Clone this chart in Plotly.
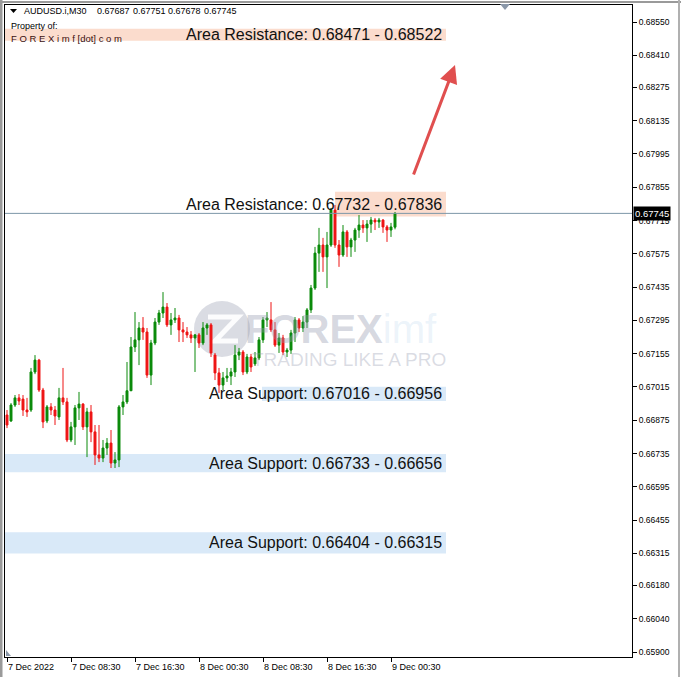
import plotly.graph_objects as go
import pandas as pd

# ---------------- data (AUDUSD M30) ----------------
start_time = "2022-12-07 00:30"
opens = [0.66897,0.66872,0.66939,0.66969,0.66964,0.66918,0.66918,0.67078,0.67128,0.67002,
         0.66872,0.66931,0.66918,0.66889,0.66969,0.66952,0.66792,0.66847,0.66927,0.66943,
         0.66847,0.66910,0.66826,0.66729,0.66716,0.66758,0.66779,0.66695,0.66708,0.66931,
         0.66952,0.66999,0.67183,0.67213,0.67263,0.67246,0.67065,0.67200,0.67288,0.67326,
         0.67351,0.67276,0.67297,0.67305,0.67255,0.67246,0.67234,0.67221,0.67234,0.67200,
         0.67263,0.67276,0.67149,0.67074,0.67023,0.67053,0.67061,0.67078,0.67149,0.67162,
         0.67078,0.67141,0.67112,0.67137,0.67213,0.67297,0.67297,0.67255,0.67191,0.67221,
         0.67162,0.67170,0.67242,0.67297,0.67263,0.67288,0.67339,0.67431,0.67578,0.67612,
         0.67562,0.67612,0.67759,0.67612,0.67570,0.67667,0.67604,0.67633,0.67675,0.67696,
         0.67684,0.67700,0.67717,0.67709,0.67717,0.67688,0.67675,0.67687]
highs = [0.66918,0.66947,0.66981,0.66985,0.66981,0.66969,0.67095,0.67149,0.67133,0.67011,
         0.66939,0.66947,0.66935,0.67011,0.67095,0.66969,0.66868,0.66939,0.66994,0.66947,
         0.66927,0.66939,0.66855,0.66855,0.66792,0.66800,0.66834,0.66741,0.66939,0.66981,
         0.67120,0.67225,0.67330,0.67288,0.67309,0.67263,0.67213,0.67305,0.67339,0.67414,
         0.67368,0.67326,0.67347,0.67318,0.67288,0.67267,0.67250,0.67238,0.67242,0.67288,
         0.67284,0.67284,0.67158,0.67095,0.67078,0.67095,0.67095,0.67191,0.67179,0.67170,
         0.67154,0.67154,0.67162,0.67225,0.67309,0.67330,0.67372,0.67288,0.67242,0.67234,
         0.67179,0.67255,0.67309,0.67305,0.67313,0.67347,0.67444,0.67604,0.67684,0.67642,
         0.67667,0.67768,0.67780,0.67633,0.67696,0.67675,0.67642,0.67684,0.67738,0.67717,
         0.67717,0.67730,0.67726,0.67726,0.67721,0.67696,0.67705,0.67751]
lows = [0.66842,0.66868,0.66931,0.66939,0.66893,0.66889,0.66910,0.67069,0.66994,0.66842,
        0.66863,0.66897,0.66855,0.66876,0.66939,0.66783,0.66783,0.66771,0.66876,0.66834,
        0.66720,0.66783,0.66687,0.66699,0.66699,0.66729,0.66674,0.66674,0.66678,0.66897,
        0.66943,0.67086,0.67162,0.67107,0.67213,0.67053,0.67023,0.67191,0.67276,0.67305,
        0.67267,0.67234,0.67284,0.67204,0.67204,0.67221,0.67200,0.67078,0.67179,0.67191,
        0.67234,0.67141,0.67044,0.66990,0.67002,0.67036,0.67023,0.67057,0.67128,0.67065,
        0.67069,0.67078,0.67103,0.67128,0.67200,0.67267,0.67246,0.67183,0.67158,0.67149,
        0.67141,0.67154,0.67204,0.67246,0.67246,0.67263,0.67326,0.67423,0.67499,0.67499,
        0.67431,0.67604,0.67600,0.67520,0.67562,0.67562,0.67562,0.67583,0.67642,0.67663,
        0.67625,0.67663,0.67675,0.67684,0.67663,0.67625,0.67646,0.67678]
closes = [0.66855,0.66939,0.66969,0.66956,0.66918,0.66910,0.67078,0.67128,0.67002,0.66868,
          0.66931,0.66918,0.66893,0.66969,0.66952,0.66792,0.66847,0.66927,0.66943,0.66847,
          0.66910,0.66826,0.66729,0.66716,0.66758,0.66779,0.66695,0.66708,0.66931,0.66952,
          0.66999,0.67183,0.67213,0.67263,0.67246,0.67065,0.67200,0.67288,0.67326,0.67351,
          0.67276,0.67297,0.67305,0.67255,0.67246,0.67234,0.67221,0.67234,0.67200,0.67263,
          0.67276,0.67158,0.67074,0.67023,0.67053,0.67061,0.67078,0.67149,0.67162,0.67078,
          0.67141,0.67099,0.67137,0.67213,0.67297,0.67305,0.67255,0.67191,0.67221,0.67162,
          0.67170,0.67242,0.67297,0.67263,0.67288,0.67339,0.67431,0.67578,0.67612,0.67562,
          0.67612,0.67759,0.67612,0.67570,0.67667,0.67604,0.67633,0.67675,0.67696,0.67684,
          0.67700,0.67717,0.67709,0.67717,0.67688,0.67675,0.67688,0.67745]

times = pd.date_range(start_time, periods=len(opens), freq="30min")
cats = [t.strftime("%Y-%m-%d %H:%M") for t in times]

x_tick_labels = ["7 Dec 2022", "7 Dec 08:30", "7 Dec 16:30", "8 Dec 00:30",
                 "8 Dec 08:30", "8 Dec 16:30", "9 Dec 00:30"]
x_tick_times = ["2022-12-07 00:30", "2022-12-07 08:30", "2022-12-07 16:30",
                "2022-12-08 00:30", "2022-12-08 08:30", "2022-12-08 16:30",
                "2022-12-09 00:30"]
y_tick_vals = [0.68550, 0.68410, 0.68275, 0.68135, 0.67995, 0.67855, 0.67715, 0.67575,
               0.67435, 0.67295, 0.67155, 0.67015, 0.66875, 0.66735, 0.66595, 0.66455,
               0.66315, 0.66180, 0.66040, 0.65900]

symbol_label = "AUDUSD.i,M30"
last_ohlc = [0.67687, 0.67751, 0.67678, 0.67745]

resistance_zones = [(0.68471, 0.68522), (0.67732, 0.67836)]
support_zones = [(0.67016, 0.66956), (0.66733, 0.66656), (0.66404, 0.66315)]
current_price = 0.67745

# ---------------- layout geometry helpers (pixels -> paper) ----------------
W, H = 681, 677
L, R, T, B = 5, 632, 5, 657
def px(xp):
    return (xp - L) / (R - L)
def py(yp):
    return (B - yp) / (B - T)

FONT = "Liberation Sans"
GREEN = "#0a8a0a"
RED = "#ee1515"

fig = go.Figure()
fig.add_trace(go.Candlestick(
    x=cats, open=opens, high=highs, low=lows, close=closes,
    increasing=dict(line=dict(color=GREEN, width=1), fillcolor=GREEN),
    decreasing=dict(line=dict(color=RED, width=1), fillcolor=RED),
    whiskerwidth=0, showlegend=False, hoverinfo="skip"))

shapes = []
annotations = []

# zones
res_left = [0, px(335)]
for (lo, hi), x0 in zip(resistance_zones, res_left):
    shapes.append(dict(type="rect", xref="paper", yref="y", x0=x0, x1=px(446),
                       y0=lo, y1=hi, fillcolor="#fbdccd", line=dict(width=0), layer="below"))
sup_left = [px(262), 0, 0]
for (hi, lo), x0 in zip(support_zones, sup_left):
    shapes.append(dict(type="rect", xref="paper", yref="y", x0=x0, x1=px(446),
                       y0=lo, y1=hi, fillcolor="#d9e9f8", line=dict(width=0), layer="below"))

for lo, hi in resistance_zones:
    annotations.append(dict(xref="paper", yref="y", x=px(444), y=(lo + hi) / 2,
                            text=f"Area Resistance: {lo:.5f} - {hi:.5f}", showarrow=False,
                            xanchor="right", yanchor="middle",
                            font=dict(family=FONT, size=16, color="#111")))
for hi, lo in support_zones:
    annotations.append(dict(xref="paper", yref="y", x=px(444), y=(lo + hi) / 2,
                            text=f"Area Support: {hi:.5f} - {lo:.5f}", showarrow=False,
                            xanchor="right", yanchor="middle",
                            font=dict(family=FONT, size=16, color="#111")))

# watermark
shapes.append(dict(type="circle", xref="paper", yref="paper",
                   x0=px(194), x1=px(250), y0=py(357), y1=py(301),
                   fillcolor="rgba(150,155,175,0.35)", line=dict(width=0), layer="below"))
shapes.append(dict(type="path", xref="paper", yref="paper",
                   path=f"M {px(208)},{py(317)} L {px(238)},{py(317)} L {px(215)},{py(341)} L {px(238)},{py(341)}",
                   line=dict(color="rgba(255,255,255,0.9)", width=5), layer="below"))
annotations.append(dict(xref="paper", yref="paper", x=px(243), y=py(329),
                        text="<b>FOREX</b><span style='color:rgba(140,185,225,0.45)'>imf</span>",
                        showarrow=False, xanchor="left", yanchor="middle",
                        font=dict(family=FONT, size=40, color="rgba(150,155,175,0.40)")))
annotations.append(dict(xref="paper", yref="paper", x=px(250), y=py(359),
                        text="TRADING LIKE A PRO", showarrow=False, xanchor="left", yanchor="middle",
                        font=dict(family=FONT, size=19, color="rgba(150,155,175,0.35)")))

# current price line and label
shapes.append(dict(type="line", xref="paper", yref="y", x0=0, x1=1,
                   y0=current_price, y1=current_price, line=dict(color="#7d97a8", width=1)))
annotations.append(dict(xref="paper", yref="y", x=1, y=current_price, xshift=1,
                        text=f"{current_price:.5f}", showarrow=False, xanchor="left", yanchor="middle",
                        bgcolor="#000", borderpad=1,
                        font=dict(family=FONT, size=9.5, color="#fff")))

# arrow
annotations.append(dict(xref="paper", yref="paper", x=px(455), y=py(65),
                        ax=-42, ay=111, axref="pixel", ayref="pixel",
                        showarrow=True, arrowhead=2, arrowsize=1.2, arrowwidth=3,
                        arrowcolor="#e04f4f", text=""))

# header (placed piece by piece like the MT4 info line)
HF = dict(family=FONT, size=9, color="#000")
shapes.append(dict(type="path", xref="paper", yref="paper",
                   path=f"M {px(10)},{py(9)} L {px(17)},{py(9)} L {px(13.5)},{py(13)} Z",
                   fillcolor="#000", line=dict(width=0)))
annotations.append(dict(xref="paper", yref="paper", x=px(22), y=py(11), text=symbol_label,
                        showarrow=False, xanchor="left", yanchor="middle", font=HF))
for k, v in enumerate(last_ohlc):
    annotations.append(dict(xref="paper", yref="paper", x=px(95 + 35.5 * k), y=py(11),
                            text=f"{v:.5f}", showarrow=False, xanchor="left", yanchor="middle", font=HF))
annotations.append(dict(xref="paper", yref="paper", x=px(9), y=py(26),
                        text="Property of:", showarrow=False,
                        xanchor="left", yanchor="middle", font=HF))
annotations.append(dict(xref="paper", yref="paper", x=px(9), y=py(38),
                        text="F O R E X i m f [dot] c o m", showarrow=False,
                        xanchor="left", yanchor="middle", font=dict(family=FONT, size=9.5, color="#3a1010")))

# x-axis labels (left aligned like MT4)
for t, lab in zip(x_tick_times, x_tick_labels):
    annotations.append(dict(xref="x", yref="paper", x=cats.index(t), y=0, yshift=-3,
                            text=lab, showarrow=False, xanchor="left", yanchor="top", xshift=-1,
                            font=dict(family=FONT, size=9, color="#000")))

# window frame lines and small MT4 markers
shapes.append(dict(type="line", xref="paper", yref="paper", x0=px(1), x1=px(1), y0=py(0), y1=py(677),
                   line=dict(color="#9a9a9a", width=3)))
shapes.append(dict(type="line", xref="paper", yref="paper", x0=px(0), x1=px(681), y0=py(2), y1=py(2),
                   line=dict(color="#9a9a9a", width=2)))
shapes.append(dict(type="line", xref="paper", yref="paper", x0=px(679), x1=px(679), y0=py(0), y1=py(677),
                   line=dict(color="#b0b0b0", width=2)))
shapes.append(dict(type="path", xref="paper", yref="paper",
                   path=f"M {px(500)},{py(4)} L {px(510)},{py(4)} L {px(505)},{py(10)} Z",
                   fillcolor="#8a97a8", line=dict(width=0)))
shapes.append(dict(type="path", xref="paper", yref="paper",
                   path=f"M {px(6)},{py(650)} L {px(6)},{py(656)} L {px(11)},{py(656)} Z",
                   fillcolor="#8a97a8", line=dict(width=0)))

fig.update_layout(
    width=W, height=H,
    margin=dict(l=L, r=W - R, t=T, b=H - B, autoexpand=False),
    paper_bgcolor="white", plot_bgcolor="white",
    shapes=shapes, annotations=annotations,
    xaxis=dict(type="category", range=[-0.5, -0.5 + (R - L) / 4.0], rangeslider=dict(visible=False),
               tickvals=x_tick_times, ticktext=[""] * len(x_tick_times), automargin=False,
               ticks="outside", ticklen=4, tickcolor="#000", showgrid=False,
               showline=True, linecolor="#000", linewidth=1, mirror=True, zeroline=False),
    yaxis=dict(side="right", range=[0.658792, 0.686215], tickvals=y_tick_vals,
               ticktext=[f"{v:.5f}" for v in y_tick_vals], automargin=False,
               ticks="outside", ticklen=4, tickcolor="#000", showgrid=False,
               showline=True, linecolor="#000", linewidth=1, mirror=True, zeroline=False,
               tickfont=dict(family=FONT, size=8.5, color="#000")),
)

fig.write_html("out.html", config={"displayModeBar": False},
               post_script="document.body.style.margin='0';document.body.style.overflow='hidden';")
